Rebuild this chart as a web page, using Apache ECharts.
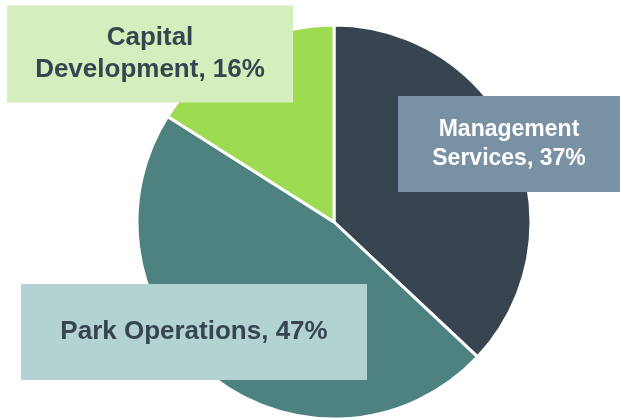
<!DOCTYPE html>
<html>
<head>
<meta charset="utf-8">
<script src="https://cdn.jsdelivr.net/npm/echarts@6/dist/echarts.min.js"></script>
<style>
    html, body { margin: 0; padding: 0; background: #fff; }
    #chart { width: 621px; height: 419px; }
</style>
</head>
<body>
<div id="chart"></div>
<script>
    // data
    var categories = ['Management\nServices', 'Park Operations', 'Capital\nDevelopment'];
    var values = [37, 47, 16];
    var sliceColors = ['#36454f', '#4e8280', '#9ddc50'];
    var boxColors = ['#7891a3', '#b3d3d3', '#d4efbd'];
    var textColors = ['#ffffff', '#36454f', '#36454f'];
    var fontSizes = [23, 26, 26];
    var lineHeights = [29, 31, 32];
    // label boxes: center x, center y, width, height
    var boxes = [
        [509, 144, 222, 96],
        [194, 332, 346, 96],
        [150, 54, 286, 97]
    ];

    var chart = echarts.init(document.getElementById('chart'));
    var option = {
        animation: false,
        series: [{
            type: 'pie',
            center: [334, 222],
            radius: 197,
            startAngle: 90,
            clockwise: true,
            itemStyle: { borderColor: '#fff', borderWidth: 3 },
            labelLine: { show: false },
            data: categories.map(function (c, i) {
                return {
                    name: c,
                    value: values[i],
                    itemStyle: { color: sliceColors[i] },
                    label: {
                        show: true,
                        formatter: '{b}, {d}%',
                        width: boxes[i][2],
                        height: boxes[i][3],
                        backgroundColor: boxColors[i],
                        color: textColors[i],
                        fontFamily: 'Liberation Sans, Arial, sans-serif',
                        fontWeight: 'bold',
                        fontSize: fontSizes[i],
                        lineHeight: lineHeights[i],
                        align: 'center',
                        verticalAlign: 'middle'
                    }
                };
            }),
            labelLayout: function (params) {
                var b = boxes[params.dataIndex];
                return { x: b[0], y: b[1], align: 'center', verticalAlign: 'middle' };
            }
        }]
    };
    chart.setOption(option);
</script>
</body>
</html>
